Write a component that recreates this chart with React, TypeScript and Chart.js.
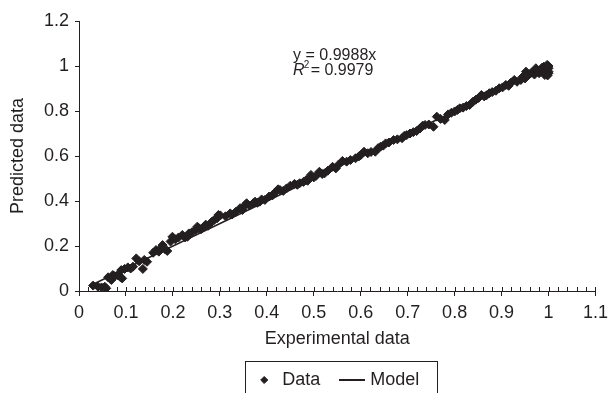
import React, { useEffect, useRef } from 'react';
import { Chart, registerables } from 'chart.js';

Chart.register(...registerables);

// Experimental (x) vs predicted (y) values
const expX = [
  0.030, 0.040, 0.048, 0.055, 0.058, 0.062, 0.066, 0.069, 0.072, 0.076,
  0.082, 0.088, 0.092, 0.090, 0.097, 0.104, 0.110, 0.115, 0.122, 0.128,
  0.136, 0.139, 0.145, 0.158, 0.164, 0.170, 0.174, 0.178, 0.183, 0.188,
  0.195, 0.199, 0.205, 0.212, 0.220, 0.226, 0.231, 0.234, 0.241, 0.248,
  0.252, 0.255, 0.260, 0.266, 0.270, 0.275, 0.283, 0.288, 0.294, 0.297,
  0.301, 0.312, 0.322, 0.326, 0.334, 0.343, 0.348, 0.354, 0.357, 0.363,
  0.371, 0.375, 0.380, 0.385, 0.389, 0.396, 0.405, 0.412, 0.417, 0.424,
  0.428, 0.435, 0.442, 0.450, 0.459, 0.465, 0.470, 0.478, 0.484, 0.487,
  0.494, 0.500, 0.505, 0.512, 0.518, 0.523, 0.530, 0.540, 0.547, 0.552,
  0.561, 0.570, 0.578, 0.589, 0.596, 0.600, 0.607, 0.615, 0.622, 0.631,
  0.637, 0.642, 0.648, 0.653, 0.660, 0.670, 0.678, 0.688, 0.693, 0.698,
  0.705, 0.712, 0.719, 0.726, 0.732, 0.737, 0.745, 0.755, 0.762, 0.770,
  0.779, 0.786, 0.793, 0.800, 0.806, 0.811, 0.818, 0.825, 0.832, 0.839,
  0.845, 0.851, 0.857, 0.863, 0.868, 0.874, 0.880, 0.888, 0.895, 0.902,
  0.909, 0.915, 0.920, 0.927, 0.933, 0.941, 0.945, 0.950, 0.952, 0.957,
  0.962, 0.966, 0.970, 0.973, 0.977, 0.980, 0.983, 0.986, 0.990, 0.992,
  0.995, 0.997, 1.000, 1.000, 1.000, 1.000, 0.998,
];
const predY = [
  0.024, 0.020, 0.016, 0.019, 0.012, 0.061, 0.055, 0.049, 0.071, 0.066,
  0.070, 0.062, 0.056, 0.093, 0.098, 0.105, 0.100, 0.108, 0.145, 0.132,
  0.098, 0.138, 0.130, 0.170, 0.182, 0.175, 0.190, 0.204, 0.186, 0.178,
  0.220, 0.241, 0.230, 0.238, 0.249, 0.238, 0.241, 0.256, 0.262, 0.271,
  0.286, 0.279, 0.275, 0.286, 0.295, 0.290, 0.308, 0.316, 0.323, 0.338,
  0.336, 0.332, 0.345, 0.340, 0.352, 0.368, 0.360, 0.382, 0.390, 0.380,
  0.390, 0.397, 0.392, 0.397, 0.407, 0.405, 0.420, 0.425, 0.437, 0.452,
  0.449, 0.445, 0.456, 0.468, 0.476, 0.472, 0.479, 0.485, 0.493, 0.490,
  0.516, 0.505, 0.512, 0.530, 0.520, 0.523, 0.535, 0.552, 0.545, 0.560,
  0.578, 0.575, 0.582, 0.590, 0.598, 0.604, 0.619, 0.612, 0.618, 0.619,
  0.635, 0.641, 0.646, 0.656, 0.660, 0.671, 0.674, 0.679, 0.690, 0.693,
  0.700, 0.706, 0.711, 0.722, 0.735, 0.738, 0.740, 0.730, 0.775, 0.765,
  0.760, 0.785, 0.792, 0.798, 0.805, 0.812, 0.815, 0.822, 0.827, 0.841,
  0.850, 0.858, 0.871, 0.865, 0.870, 0.879, 0.884, 0.890, 0.901, 0.905,
  0.916, 0.912, 0.926, 0.938, 0.930, 0.938, 0.952, 0.945, 0.975, 0.960,
  0.968, 0.972, 0.962, 0.990, 0.975, 0.968, 0.982, 0.992, 0.997, 0.960,
  0.985, 1.005, 0.968, 0.990, 1.000, 0.975, 0.958,
];

// Fitted model y = 0.9988x, endpoints
const modelX = [0.03, 1.0];
const modelY = [0.03, 0.9988];

const xTickLabels = ['0', '0.1', '0.2', '0.3', '0.4', '0.5', '0.6', '0.7', '0.8', '0.9', '1', '1.1'];
const yTickLabels = ['0', '0.2', '0.4', '0.6', '0.8', '1', '1.2'];

const eqLine1 = 'y = 0.9988x';
const eqR = 'R';
const eqSup = '2';
const eqLine2Rest = '= 0.9979';

const FONT = "'Liberation Sans Narrow', 'Arial Narrow', 'Liberation Sans', Arial, sans-serif";
const INK = '#231f20';

const minorTicksPlugin = {
  id: 'minorTicks',
  afterDraw(chart: any) {
    const xs = chart.scales.x;
    const ctx = chart.ctx;
    const b = chart.chartArea.bottom;
    ctx.save();
    ctx.strokeStyle = INK;
    ctx.lineWidth = 1;
    for (let i = 0; i <= 55; i++) {
      const px = Math.round(xs.getPixelForValue(i * 0.02)) + 0.5;
      ctx.beginPath();
      ctx.moveTo(px, b);
      ctx.lineTo(px, b - 4);
      ctx.stroke();
    }
    ctx.restore();
  },
};

const equationPlugin = {
  id: 'equation',
  afterDraw(chart: any) {
    const xs = chart.scales.x;
    const ys = chart.scales.y;
    const ctx = chart.ctx;
    const x0 = xs.getPixelForValue(0.456);
    const y1 = ys.getPixelForValue(1.048);
    const y2 = ys.getPixelForValue(0.978);
    ctx.save();
    ctx.fillStyle = INK;
    ctx.textAlign = 'left';
    ctx.textBaseline = 'middle';
    ctx.font = `16px ${FONT}`;
    ctx.fillText(eqLine1, x0, y1);
    ctx.font = `italic 16px ${FONT}`;
    ctx.fillText(eqR, x0, y2);
    const wR = ctx.measureText(eqR).width;
    ctx.font = `10px ${FONT}`;
    ctx.fillText(eqSup, x0 + wR - 1, y2 - 6);
    ctx.font = `16px ${FONT}`;
    ctx.fillText(eqLine2Rest, x0 + wR + 6, y2);
    ctx.restore();
  },
};

const legendBoxPlugin = {
  id: 'legendBox',
  afterDraw(chart: any) {
    const lg = chart.legend;
    if (!lg || !lg.legendHitBoxes || !lg.legendHitBoxes.length) return;
    const hb = lg.legendHitBoxes;
    const first = hb[0];
    const last = hb[hb.length - 1];
    const left = Math.round(first.left - 10) + 0.5;
    const right = Math.round(last.left + last.width + 18) + 0.5;
    const top = Math.round(first.top + first.height / 2 - 19) + 0.5;
    const ctx = chart.ctx;
    ctx.save();
    ctx.strokeStyle = INK;
    ctx.lineWidth = 1;
    ctx.strokeRect(left, top, right - left, chart.height + 10 - top);
    ctx.restore();
  },
};

export default function App() {
  const ref = useRef<HTMLCanvasElement | null>(null);

  useEffect(() => {
    if (!ref.current) return;
    const lineImg = document.createElement('canvas');
    lineImg.width = 26;
    lineImg.height = 2;
    const lctx = lineImg.getContext('2d')!;
    lctx.fillStyle = INK;
    lctx.fillRect(0, 0, 26, 2);

    const chart = new Chart(ref.current, {
      type: 'scatter',
      data: {
        datasets: [
          {
            label: 'Data',
            data: expX.map((x, i) => ({ x, y: predY[i] })),
            pointStyle: 'rectRot',
            pointRadius: 4.5,
            backgroundColor: INK,
            borderColor: INK,
            borderWidth: 1,
            showLine: false,
          },
          {
            label: 'Model',
            data: modelX.map((x, i) => ({ x, y: modelY[i] })),
            showLine: true,
            borderColor: INK,
            backgroundColor: INK,
            borderWidth: 1.5,
            pointRadius: 0,
            pointHoverRadius: 0,
            pointStyle: lineImg as any,
          },
        ],
      },
      options: {
        animation: false,
        responsive: false,
        devicePixelRatio: 1,
        layout: { padding: { top: 21, right: 14, bottom: 0, left: 0 } },
        plugins: {
          tooltip: { enabled: false },
          legend: {
            display: true,
            position: 'bottom',
            fullSize: false,
            labels: {
              usePointStyle: true,
              boxWidth: 18,
              boxHeight: 5,
              padding: 23,
              color: INK,
              font: { family: FONT, size: 18 },
            },
          },
        },
        scales: {
          x: {
            type: 'linear',
            min: 0,
            max: 1.1,
            afterFit: (s: any) => { s.height = 57; },
            ticks: {
              stepSize: 0.1,
              color: INK,
              padding: 6,
              maxRotation: 0,
              autoSkip: false,
              font: { family: FONT, size: 18 },
              callback: (v: any) => xTickLabels[Math.round(Number(v) * 10)] ?? '',
            },
            grid: { drawOnChartArea: false, drawTicks: true, tickLength: 5, color: INK },
            border: { display: true, color: INK, width: 1 },
            title: {
              display: true,
              text: 'Experimental data',
              color: INK,
              font: { family: FONT, size: 18, lineHeight: 1 },
              padding: { top: 0, bottom: 0 },
            },
          },
          y: {
            type: 'linear',
            min: 0,
            max: 1.2,
            afterFit: (s: any) => { s.width = 79; },
            ticks: {
              stepSize: 0.2,
              color: INK,
              padding: 6,
              font: { family: FONT, size: 18 },
              callback: (v: any) => yTickLabels[Math.round(Number(v) * 5)] ?? '',
            },
            grid: { drawOnChartArea: false, drawTicks: true, tickLength: 4, color: INK },
            border: { display: true, color: INK, width: 1 },
            title: {
              display: true,
              text: 'Predicted data',
              color: INK,
              font: { family: FONT, size: 18 },
              padding: { top: 7, bottom: 0 },
            },
          },
        },
      },
      plugins: [minorTicksPlugin, equationPlugin, legendBoxPlugin],
    });
    return () => chart.destroy();
  }, []);

  return (
    <div style={{ position: 'fixed', left: 0, top: 0, width: 614, height: 393, overflow: 'hidden', background: '#fff' }}>
      <canvas ref={ref} width={614} height={399} style={{ display: 'block' }} />
    </div>
  );
}
